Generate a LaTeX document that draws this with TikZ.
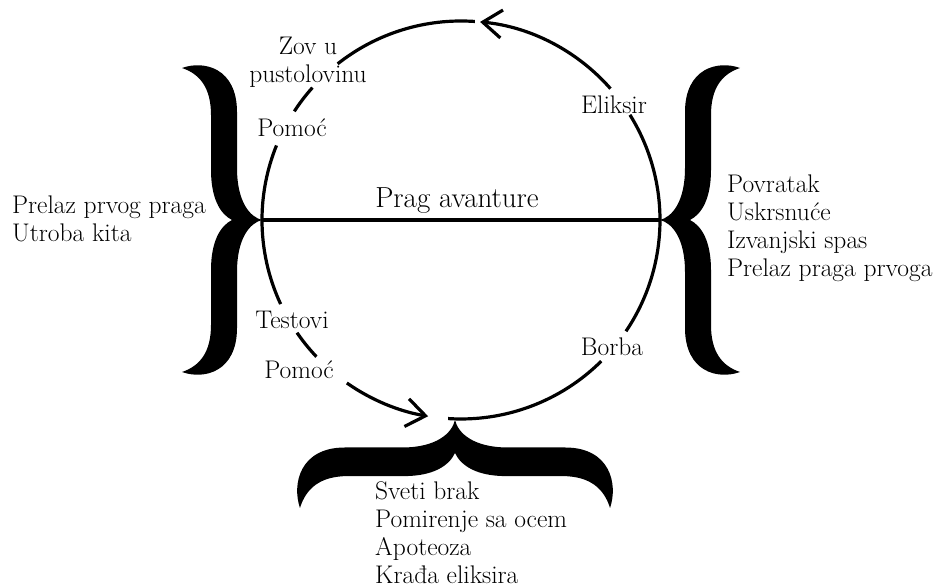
\documentclass[tikz,border=0pt]{standalone}
\usetikzlibrary{arrows.meta}

\begin{document}
\begin{tikzpicture}[x=1pt,y=1pt]

    \tikzset{
      stage/.style={
        align=center,
        inner sep=0pt,
        font=\fontsize{25.5}{28}\selectfont,
      },
      journey/.style={
        line width=3.2pt,
      },
      journey arrow/.style={
        journey,
        -{Straight Barb[length=19pt,width=28pt]},
      },
      bigbrace/.pic={
        \fill[black] (-80,152) .. controls (-58,160) and (-25,152) .. (-25,108)
          -- (-25,52) .. controls (-25,18) and (-12,3) .. (0,0)
          .. controls (-12,-3) and (-25,-18) .. (-25,-52)
          -- (-25,-108) .. controls (-25,-152) and (-58,-160) .. (-80,-152)
          .. controls (-62,-146) and (-51,-132) .. (-51,-105)
          -- (-51,-50) .. controls (-51,-22) and (-42,-6) .. (-30,0)
          .. controls (-42,6) and (-51,22) .. (-51,50)
          -- (-51,105) .. controls (-51,132) and (-62,146) .. (-80,152) -- cycle;
      },
    }
    \useasboundingbox (0,0) rectangle (938,588);

    \coordinate (ctr) at (461,368);
    \coordinate (pL) at (262,368);
    \coordinate (pR) at (660,368);
    \coordinate (pB) at (455,168);

    % threshold line
    \draw[journey] (pL)--(pR);
    \node[stage, font=\fontsize{29}{32}\selectfont] (prag) at (457,387) {Prag avanture};

    % the cycle, broken where the labels sit
    \draw[journey] ([shift={(180:199)}]ctr) arc[start angle=180, end angle=205, radius=199];
    \draw[journey] ([shift={(214.5:199)}]ctr) arc[start angle=214.5, end angle=223.4, radius=199];
    \draw[journey arrow] ([shift={(235:199)}]ctr) arc[start angle=235, end angle=260.5, radius=199];
    \draw[journey] ([shift={(266.3:199)}]ctr) arc[start angle=266.3, end angle=314.8, radius=199];
    \draw[journey] ([shift={(326:199)}]ctr) arc[start angle=326, end angle=391.9, radius=199];
    \draw[journey arrow] ([shift={(41.3:199)}]ctr) arc[start angle=41.3, end angle=84.5, radius=199];
    \draw[journey] ([shift={(86:199)}]ctr) arc[start angle=86, end angle=128.3, radius=199];
    \draw[journey] ([shift={(138.3:199)}]ctr) arc[start angle=138.3, end angle=146.9, radius=199];
    \draw[journey] ([shift={(158:199)}]ctr) arc[start angle=158, end angle=180, radius=199];

    % labels on the cycle
    \node[stage] (zov) at (308,526) {Zov u\\pustolovinu};
    \node[stage] (pomocA) at (292,460) {Pomoć};
    \node[stage] (eliksir) at (614,483) {Eliksir};
    \node[stage] (testovi) at (292,268) {Testovi};
    \node[stage] (pomocB) at (299,218) {Pomoć};
    \node[stage] (borba) at (612,241) {Borba};

    % braces
    \pic at (pL) {bigbrace};
    \pic[xscale=-1] at (pR) {bigbrace};
    \pic[rotate=90, xscale=1.1, yscale=1.02] at (pB) {bigbrace};

    % brace texts
    \node[stage, anchor=west, align=left] (ulaz) at (12,369) {Prelaz prvog praga\\Utroba kita};
    \node[stage, anchor=west, align=left] (povratak) at (727,360) {Povratak\\Uskrsnuće\\Izvanjski spas\\Prelaz praga prvoga};
    \node[stage, anchor=west, align=left] (dno) at (375,55) {Sveti brak\\Pomirenje sa ocem\\Apoteoza\\Krađa eliksira};

\end{tikzpicture}
\end{document}
